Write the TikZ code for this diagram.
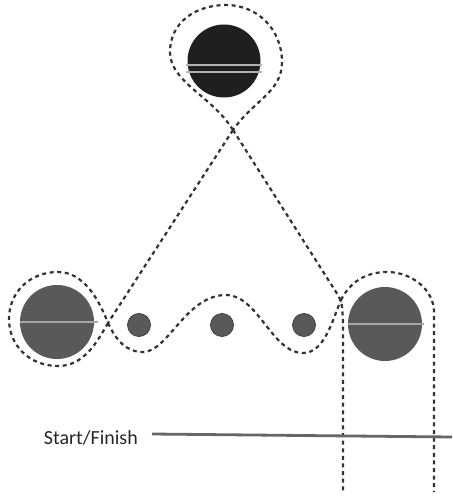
\documentclass[tikz,border=0pt]{standalone}
\usepackage{fontspec}
\setmainfont{Carlito}
\begin{document}
\begin{tikzpicture}[x=1pt,y=-1pt,
  course/.style={draw=black!80, line width=2.2pt, dash pattern=on 4pt off 3.6pt},
  bigdisc/.style={circle, fill=black!65, inner sep=0pt, minimum size=74pt},
  smalldisc/.style={circle, fill=black!65, draw=black!75, line width=0.8pt, inner sep=0pt, minimum size=23pt},
  stripe/.style={draw=black!30, line width=1.4pt},
  finish/.style={draw=black!60, line width=2.8pt}]
\useasboundingbox (0,0) rectangle (452,497);
% discs
\node[bigdisc, fill=black!88, minimum size=73pt] (top) at (224,61) {};
\node[bigdisc] (left) at (57,322) {};
\node[bigdisc] (right) at (385,324) {};
\node[smalldisc] (s1) at (139,325) {};
\node[smalldisc] (s2) at (222,325) {};
\node[smalldisc] (s3) at (304,325) {};
% stripes
\draw[stripe] ([xshift=-1pt,yshift=-11pt]top.west) -- ([xshift=1pt,yshift=-11pt]top.east);
\draw[stripe] ([xshift=-1pt,yshift=-4pt]top.west) -- ([xshift=1pt,yshift=-4pt]top.east);
\draw[stripe, draw=black!35] (left.west) -- ([xshift=4pt]left.east);
\draw[stripe, draw=black!35] (right.west) -- ([xshift=2pt]right.east);
% key points
\coordinate (X) at (233,130);
\coordinate (L) at (108,323);
\coordinate (R) at (341,300);
\coordinate (V1) at (343,492);
\coordinate (V2) at (434,492);
% teardrop around top disc
\path[course] (X) .. controls (212,96) and (170,82) .. (170,52)
  .. controls (170,22) and (196,5) .. (226,5)
  .. controls (258,5) and (282,30) .. (282,62)
  .. controls (282,92) and (254,100) .. (X);
% diagonals
\path[course] (X) -- (L);
\path[course] (X) -- (336,292) .. controls (342,302) .. (343,322) -- (V1);
% loop around left disc
\path[course] (L) .. controls (98,340) and (85,366) .. (58,366)
  .. controls (30,366) and (9,346) .. (9,319)
  .. controls (9,292) and (30,272) .. (58,272)
  .. controls (84,272) and (99,300) .. (L);
% weave through small discs
\path[course] (L) .. controls (116,340) and (126,352) .. (143,352)
  .. controls (168,352) and (186,295) .. (226,295)
  .. controls (258,295) and (272,353) .. (303,353)
  .. controls (325,353) and (333,318) .. (R);
% loop around right disc and down
\path[course] (R) .. controls (350,282) and (366,272) .. (387,272)
  .. controls (412,272) and (434,290) .. (434,312) -- (V2);
% start / finish
\node[anchor=base east, text=black!85, font=\fontsize{20}{24}\selectfont, inner sep=0pt] (sf) at (138,444) {Start/Finish};
\coordinate (F1) at (152,434);
\coordinate (F2) at (452,437);
\draw[finish] (F1) -- (F2);
\end{tikzpicture}
\end{document}
